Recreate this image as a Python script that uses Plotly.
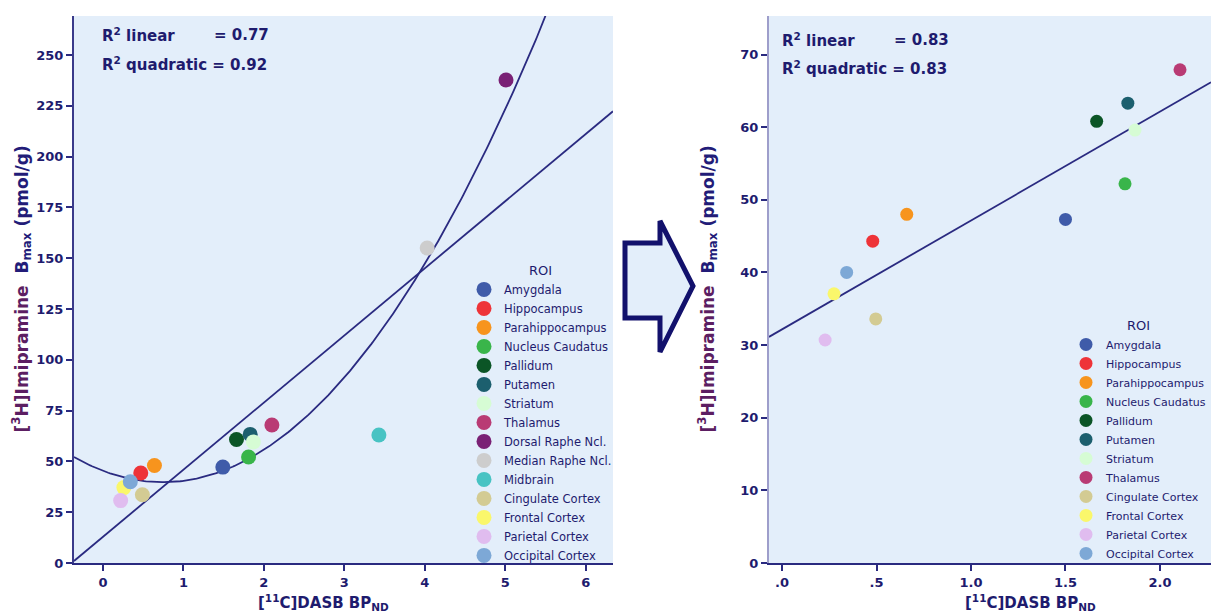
import numpy as np
import plotly.graph_objects as go

W, H = 1211, 614

# ---------------- data ----------------
roi_names = ["Amygdala", "Hippocampus", "Parahippocampus", "Nucleus Caudatus",
             "Pallidum", "Putamen", "Striatum", "Thalamus", "Dorsal Raphe Ncl.",
             "Median Raphe Ncl.", "Midbrain", "Cingulate Cortex", "Frontal Cortex",
             "Parietal Cortex", "Occipital Cortex"]
roi_colors = ["#3F5BA9", "#EE3338", "#F7941D", "#39B54A", "#0B5526", "#1C5F6E",
              "#D6FCD4", "#B93B74", "#7A2175", "#CDCDCD", "#48C3C3", "#D3CB93",
              "#FAF76B", "#E0BCEF", "#7DA8D6"]

# left panel: all regions
left_x = [1.49, 0.47, 0.64, 1.81, 1.66, 1.83, 1.87, 2.10, 5.01, 4.03, 3.43, 0.49, 0.26, 0.22, 0.34]
left_y = [47.2, 44.3, 48.0, 52.2, 60.8, 63.3, 59.6, 67.9, 237.7, 155.0, 63.0, 33.6, 37.1, 30.7, 40.0]

# right panel: without raphe nuclei and midbrain
right_names = ["Amygdala", "Hippocampus", "Parahippocampus", "Nucleus Caudatus",
               "Pallidum", "Putamen", "Striatum", "Thalamus", "Cingulate Cortex",
               "Frontal Cortex", "Parietal Cortex", "Occipital Cortex"]
right_x = [1.50, 0.48, 0.66, 1.815, 1.665, 1.83, 1.868, 2.106, 0.496, 0.275, 0.228, 0.342]
right_y = [47.3, 44.3, 48.0, 52.2, 60.8, 63.3, 59.6, 67.9, 33.6, 37.05, 30.7, 40.0]

left_r2 = ["0.77", "0.92"]
right_r2 = ["0.83", "0.83"]

left_xticks = [0, 1, 2, 3, 4, 5, 6]
left_yticks = [0, 25, 50, 75, 100, 125, 150, 175, 200, 225, 250]
right_xticks = [0, 0.5, 1.0, 1.5, 2.0]
right_xticktext = [".0", ".5", "1.0", "1.5", "2.0"]
right_yticks = [0, 10, 20, 30, 40, 50, 60, 70]

# ---------------- style ----------------
NAVY = "#1E1B6E"
LINE = "#2A2A80"
BG = "#E3EEFA"
FONT = "DejaVu Sans"
color_of = dict(zip(roi_names, roi_colors))

LX = (-0.36, 6.34)
LY = (0, 269.2)
RX = (-0.069, 2.27)
RY = (0, 75.3)


def px(xp):
    return xp / W


def py(yp):
    return 1 - yp / H


fig = go.Figure()


def add_fits(xs, ys, xr, xaxis, yaxis, degrees):
    xx = np.linspace(xr[0], xr[1], 300)
    for d in degrees:
        c = np.polyfit(np.array(xs), np.array(ys), d)
        fig.add_trace(go.Scatter(x=xx, y=np.polyval(c, xx), mode="lines",
                                 line=dict(color=LINE, width=1.8),
                                 showlegend=False, hoverinfo="skip",
                                 xaxis=xaxis, yaxis=yaxis))


add_fits(left_x, left_y, LX, "x", "y", [1, 2])
add_fits(right_x, right_y, RX, "x2", "y2", [1])

# points
for n, xv, yv in zip(roi_names, left_x, left_y):
    fig.add_trace(go.Scatter(x=[xv], y=[yv], mode="markers", name=n,
                             marker=dict(color=color_of[n], size=15, line=dict(width=0)),
                             xaxis="x", yaxis="y", legend="legend"))
for n, xv, yv in zip(right_names, right_x, right_y):
    fig.add_trace(go.Scatter(x=[xv], y=[yv], mode="markers", name=n,
                             marker=dict(color=color_of[n], size=13, line=dict(width=0)),
                             xaxis="x2", yaxis="y2", legend="legend2"))

tickfont = dict(family=FONT, size=13, color=NAVY, weight="bold")
axis_common = dict(showgrid=False, zeroline=False, showline=True, linewidth=2,
                   ticks="outside", ticklen=6, tickwidth=1.5, tickcolor=LINE,
                   tickfont=tickfont, fixedrange=True, automargin=False)


def legend_style(fsize):
    return dict(bgcolor="rgba(0,0,0,0)", borderwidth=0, itemsizing="trace",
                font=dict(family=FONT, size=fsize, color=NAVY),
                title=dict(text="ROI", side="top center",
                           font=dict(family=FONT, size=13, color=NAVY)),
                xanchor="left", yanchor="top", itemclick=False, itemdoubleclick=False)


fig.update_layout(
    width=W, height=H, autosize=False,
    margin=dict(l=0, r=0, t=0, b=0, pad=0, autoexpand=False),
    paper_bgcolor="white", plot_bgcolor=BG,
    xaxis=dict(domain=[px(74), px(613)], range=list(LX), tickvals=left_xticks,
               linecolor=LINE, anchor="y", **axis_common),
    yaxis=dict(domain=[py(563), py(16)], range=list(LY), tickvals=left_yticks,
               linecolor="#3A3A8A", anchor="x", **axis_common),
    xaxis2=dict(domain=[px(769), 1.0], range=list(RX), tickvals=right_xticks,
                ticktext=right_xticktext, linecolor=LINE, anchor="y2", **axis_common),
    yaxis2=dict(domain=[py(563), py(16)], range=list(RY), tickvals=right_yticks,
                linecolor="#9E9ECB", anchor="x2", **axis_common),
    legend=dict(x=px(464), y=py(258), **legend_style(11.5)),
    legend2=dict(x=px(1066), y=py(313), **legend_style(11)),
    showlegend=True,
)

# R² annotations
afont = dict(family=FONT, size=15, color=NAVY, weight="bold")
for (x0, y1, y2, r2) in [(100, 35, 64, left_r2), (780, 40, 68, right_r2)]:
    fig.add_annotation(x=px(x0), y=py(y1), xref="paper", yref="paper", xanchor="left",
                       yanchor="middle", align="left", showarrow=False, font=afont,
                       text="R<sup>2</sup> linear")
    fig.add_annotation(x=px(x0 + 112), y=py(y1), xref="paper", yref="paper", xanchor="left",
                       yanchor="middle", align="left", showarrow=False, font=afont,
                       text="= " + r2[0])
    fig.add_annotation(x=px(x0), y=py(y2), xref="paper", yref="paper", xanchor="left",
                       yanchor="middle", align="left", showarrow=False, font=afont,
                       text="R<sup>2</sup> quadratic = " + r2[1])

# axis titles
ytitle = ('<span style="color:#5C1E62">[<sup>3</sup>H]Imipramine</span>'
          '  B<sub>max</sub> (pmol/g)')
xtitle = "[<sup>11</sup>C]DASB BP<sub>ND</sub>"
tfont = dict(family=FONT, size=17, color="#221C78", weight="bold")
for xc in (22, 708):
    fig.add_annotation(x=px(xc), y=py(435), xref="paper", yref="paper", textangle=-90,
                       xanchor="center", yanchor="bottom", align="left", showarrow=False,
                       font=tfont, text=ytitle)
for xl in (256, 963):
    fig.add_annotation(x=px(xl), y=py(602), xref="paper", yref="paper",
                       xanchor="left", yanchor="middle", align="left", showarrow=False,
                       font=dict(family=FONT, size=15, color=NAVY, weight="bold"),
                       text=xtitle)

# block arrow between the panels
pts = [(625, 243), (660, 243), (660, 221), (693, 286), (660, 352), (660, 318), (625, 318)]
path = "M " + " L ".join(f"{px(a):.5f},{py(b):.5f}" for a, b in pts) + " Z"
fig.add_shape(type="path", xref="paper", yref="paper", path=path,
              line=dict(color="#12116C", width=5), fillcolor=BG, layer="above")

fig.write_html("out.html")
